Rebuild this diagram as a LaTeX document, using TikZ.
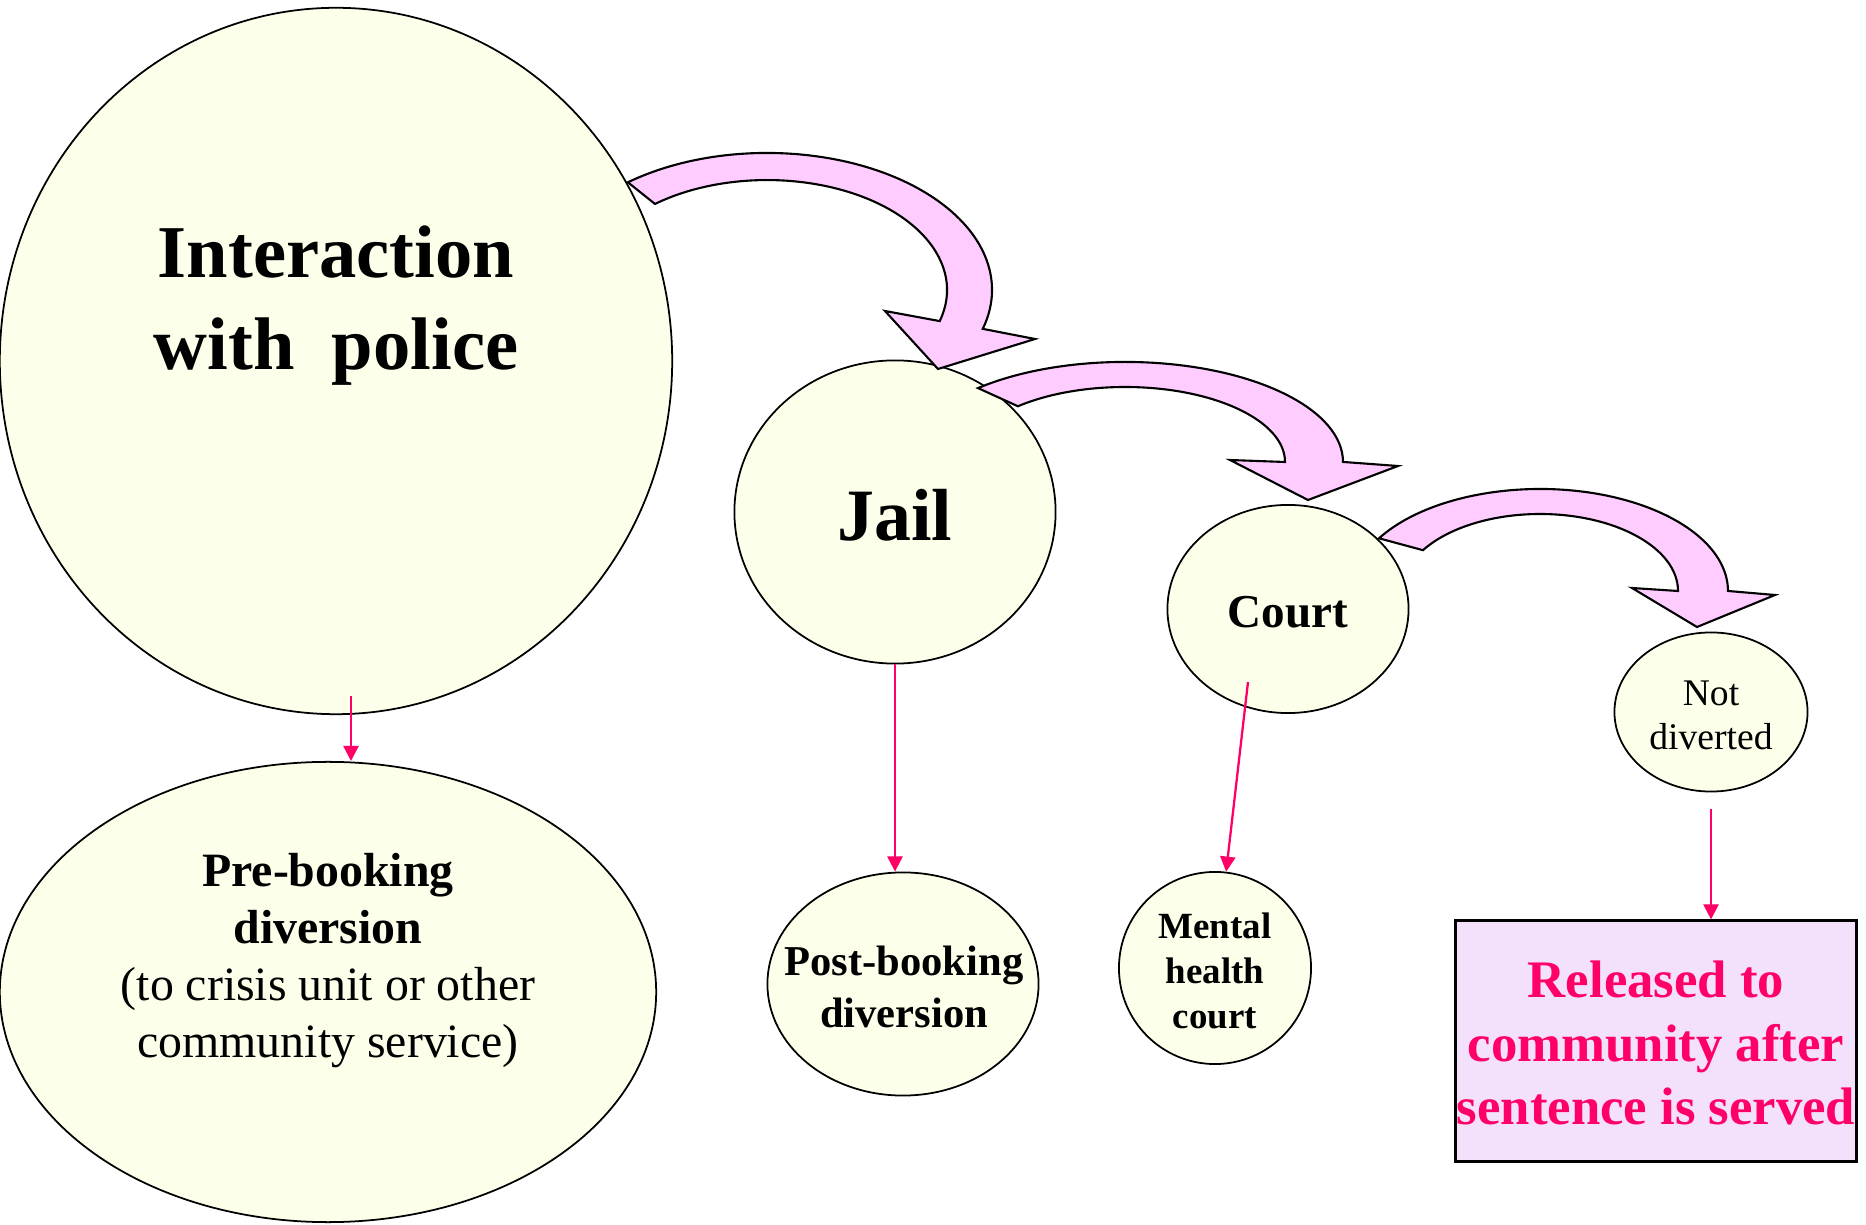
\documentclass[tikz,border=0pt]{standalone}
\usepackage{fontspec}
\setmainfont{Liberation Serif}
\usetikzlibrary{shapes.geometric,arrows.meta}
\definecolor{nodefill}{RGB}{252,255,234}
\definecolor{arrowpink}{RGB}{255,204,255}
\definecolor{boxfill}{RGB}{243,224,251}
\definecolor{hotpink}{RGB}{255,0,102}
\begin{document}
\begin{tikzpicture}[x=0.01cm,y=0.01cm,
  bubble/.style={ellipse, draw=black, line width=0.5pt, fill=nodefill, inner sep=0pt},
  bigarrow/.style={draw=black, line width=0.6pt, fill=arrowpink, line join=miter},
  link/.style={draw=hotpink, line width=0.65pt, -{Triangle[length=4.3pt,width=4.3pt]}},
  lbl/.style={align=center, inner sep=0pt, text=black}]
\useasboundingbox (0,0) rectangle (1866,-1225);
% shapes
\node[bubble, minimum width=6.72cm, minimum height=7.06cm] (police) at (336,-361) {};
\node[bubble, minimum width=6.56cm, minimum height=4.60cm] (pre) at (328,-992) {};
\node[bubble, minimum width=3.21cm, minimum height=3.03cm] (jail) at (895,-512) {};
\node[bubble, minimum width=2.71cm, minimum height=2.23cm] (post) at (903,-984) {};
\node[bubble, minimum width=2.41cm, minimum height=2.08cm] (court) at (1288,-609) {};
\node[bubble, minimum width=1.92cm, minimum height=1.92cm] (mh) at (1215,-968) {};
\node[bubble, minimum width=1.93cm, minimum height=1.59cm] (notdiv) at (1711,-712) {};
\node[rectangle, draw=black, line width=0.85pt, fill=boxfill, minimum width=4cm, minimum height=2.4cm, inner sep=0pt] (rel) at (1656,-1041) {};
% labels
\node[lbl, font=\bfseries\fontsize{21.2}{26.2}\selectfont] (policetxt) at (336,-306) {Interaction\\with\ \ police};
\node[lbl, font=\fontsize{13.6}{16.2}\selectfont] (pretxt) at (328,-961) {\textbf{Pre-booking}\\\textbf{diversion}\\(to crisis unit or other\\community service)};
\node[lbl, font=\bfseries\fontsize{21}{25}\selectfont] (jailtxt) at (895,-515) {Jail};
\node[lbl, font=\bfseries\fontsize{12.1}{15}\selectfont] (posttxt) at (904,-987) {Post-booking\\diversion};
\node[lbl, font=\bfseries\fontsize{13.4}{16}\selectfont] (courttxt) at (1288,-612) {Court};
\node[lbl, font=\bfseries\fontsize{10.5}{12.8}\selectfont] (mhtxt) at (1215,-971) {Mental\\health\\court};
\node[lbl, font=\fontsize{10.7}{12.5}\selectfont] (notdivtxt) at (1711,-715) {Not\\diverted};
\node[lbl, text=hotpink, font=\bfseries\fontsize{15}{18}\selectfont] (reltxt) at (1656,-1043) {Released to\\community after\\sentence is served};
% big curved arrows
\draw[bigarrow] (627.9,-182.3) arc[start angle=128.2, end angle=-16.5, x radius=225, y radius=137]
  -- (1035,-339) -- (938,-369) -- (885,-311) -- (939.7,-321.1)
  arc[start angle=-16.4, end angle=128.5, x radius=180, y radius=110] -- cycle;
\draw[bigarrow] (978,-388.1) arc[start angle=132.4, end angle=0, x radius=218, y radius=100]
  -- (1398,-466) -- (1308,-500) -- (1230,-460) -- (1285,-462)
  arc[start angle=0, end angle=132, x radius=160, y radius=75] -- cycle;
\draw[bigarrow] (1379,-538.3) arc[start angle=148.9, end angle=0, x radius=188, y radius=102]
  -- (1775,-595) -- (1697,-627) -- (1632,-588) -- (1678,-591)
  arc[start angle=0, end angle=148, x radius=138, y radius=77] -- cycle;
% thin connectors
\coordinate (p1) at (351,-696);
\coordinate (c1) at (1248,-682);
\coordinate (n1) at (1711,-809);
\draw[link] (p1) -- (p1 |- pre.north);
\draw[link] (jail.south) -- (jail.south |- post.north);
\draw[link] (c1) -- (mh);
\draw[link] (n1) -- (n1 |- rel.north);
\end{tikzpicture}
\end{document}
